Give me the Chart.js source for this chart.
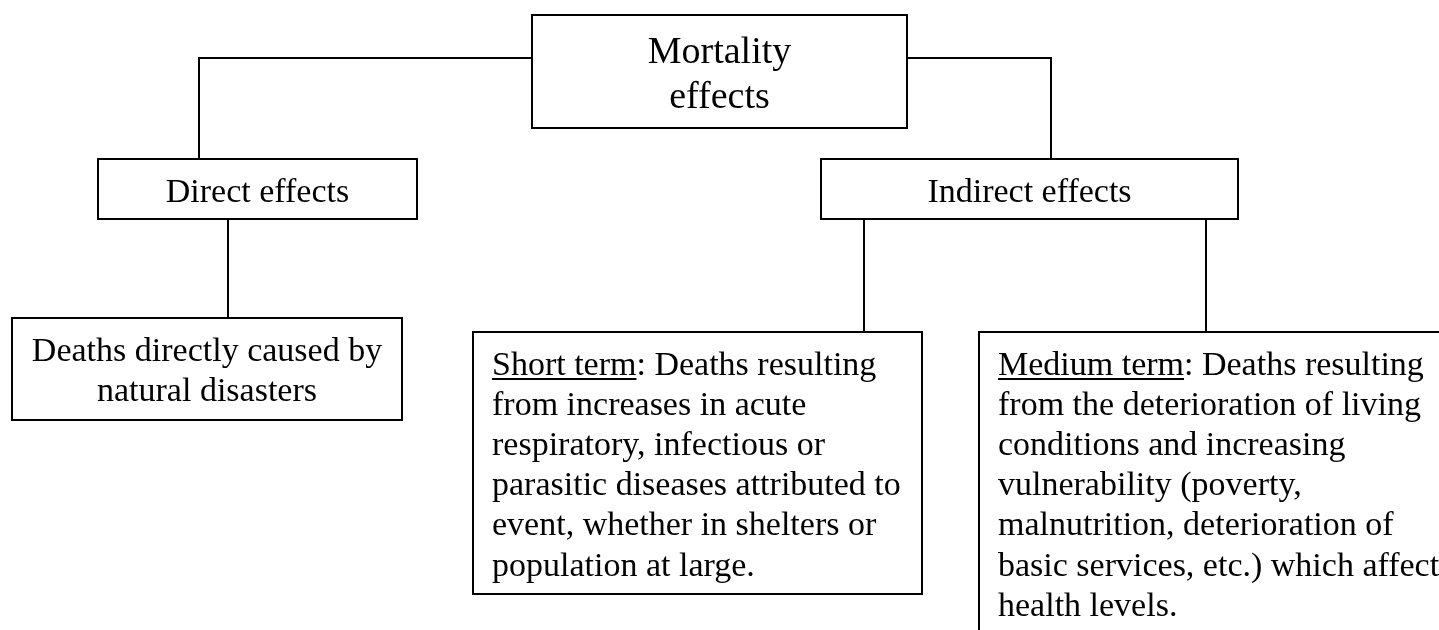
<!DOCTYPE html>
<html lang="en">
<head>
<meta charset="utf-8">
<title>Mortality effects</title>
<script src="https://cdn.jsdelivr.net/npm/chart.js@4.4.1/dist/chart.umd.min.js"></script>
<style>
  html, body { margin: 0; padding: 0; background: #ffffff; }
  canvas { display: block; }
</style>
</head>
<body>
<canvas id="diagram" width="1439" height="630"></canvas>
<script>
"use strict";

// diagram content
const nodeIds = ["mortality", "direct", "indirect", "deaths", "short", "medium"];

const nodeLines = [
  ["Mortality", "effects"],
  ["Direct effects"],
  ["Indirect effects"],
  ["Deaths directly caused by", "natural disasters"],
  [
    "Short term: Deaths resulting",
    "from increases in acute",
    "respiratory, infectious or",
    "parasitic diseases attributed to",
    "event, whether in shelters or",
    "population at large.",
  ],
  [
    "Medium term: Deaths resulting",
    "from the deterioration of living",
    "conditions and increasing",
    "vulnerability (poverty,",
    "malnutrition, deterioration of",
    "basic services, etc.) which affect",
    "health levels.",
  ],
];

const nodeUnderlined = ["", "", "", "", "Short term", "Medium term"];

// parent -> child links
const linkFrom = ["mortality", "mortality", "direct", "indirect", "indirect"];
const linkTo = ["direct", "indirect", "deaths", "short", "medium"];

// layout (diagram units = page pixels)
const nodeLeft = [532, 98, 821, 12, 473, 979];
const nodeRight = [907, 417, 1238, 402, 922, 1450];
const nodeTop = [15, 159, 159, 318, 332, 332];
const nodeBottom = [128, 219, 219, 420, 594, 634];
const nodeAlign = ["center", "center", "center", "center", "left", "left"];
const nodeFontSize = [38, 34, 34, 34, 34, 34];
const linkExit = ["left", "right", "bottom", "bottom", "bottom"];
const linkExitY = [58, 58, null, null, null];
const linkChildX = [199, 1051, 228, 864, 1206];

const FONT_FAMILY = "'Liberation Serif', 'Times New Roman', serif";
const INK = "#000000";
const TEXT_PAD = 19;

function idx(id) {
  return nodeIds.indexOf(id);
}

function boxPath(i) {
  const l = nodeLeft[i];
  const r = nodeRight[i];
  const t = nodeTop[i];
  const b = nodeBottom[i];
  return [
    { x: l, y: t },
    { x: r, y: t },
    { x: r, y: b },
    { x: l, y: b },
    { x: l, y: t },
  ];
}

function linkPath(k) {
  const p = idx(linkFrom[k]);
  const c = idx(linkTo[k]);
  const cx = linkChildX[k];
  if (linkExit[k] === "bottom") {
    return [
      { x: cx, y: nodeBottom[p] },
      { x: cx, y: nodeTop[c] },
    ];
  }
  const sx = linkExit[k] === "left" ? nodeLeft[p] : nodeRight[p];
  return [
    { x: sx, y: linkExitY[k] },
    { x: cx, y: linkExitY[k] },
    { x: cx, y: nodeTop[c] },
  ];
}

function lineDataset(points) {
  return {
    data: points,
    showLine: true,
    borderColor: INK,
    borderWidth: 2,
    borderJoinStyle: "miter",
    borderCapStyle: "square",
    pointRadius: 0,
    pointHoverRadius: 0,
    fill: false,
    tension: 0,
    clip: false,
  };
}

const labelPlugin = {
  id: "nodeLabels",
  afterDatasetsDraw(chart) {
    const { ctx } = chart;
    const xs = chart.scales.x;
    const ys = chart.scales.y;
    ctx.save();
    ctx.fillStyle = INK;
    ctx.textBaseline = "alphabetic";
    nodeIds.forEach((id, i) => {
      const size = nodeFontSize[i];
      const lineH = size * 1.18;
      ctx.font = `${size}px ${FONT_FAMILY}`;
      const left = xs.getPixelForValue(nodeLeft[i]);
      const right = xs.getPixelForValue(nodeRight[i]);
      const top = ys.getPixelForValue(nodeTop[i]);
      nodeLines[i].forEach((line, n) => {
        const baseY = top + size * 1.265 + n * lineH;
        let x;
        if (nodeAlign[i] === "center") {
          ctx.textAlign = "center";
          x = (left + right) / 2;
        } else {
          ctx.textAlign = "left";
          x = left + TEXT_PAD;
        }
        ctx.fillText(line, x, baseY);
        const under = nodeUnderlined[i];
        if (n === 0 && under && line.startsWith(under)) {
          const w = ctx.measureText(under).width;
          const startX = nodeAlign[i] === "center"
            ? x - ctx.measureText(line).width / 2
            : x;
          ctx.fillRect(startX, baseY + 3, w, 2);
        }
      });
    });
    ctx.restore();
  },
};

const datasets = [];
nodeIds.forEach((id, i) => datasets.push(lineDataset(boxPath(i))));
linkFrom.forEach((id, k) => datasets.push(lineDataset(linkPath(k))));

const canvas = document.getElementById("diagram");
new Chart(canvas, {
  type: "scatter",
  data: { datasets },
  options: {
    responsive: false,
    animation: false,
    devicePixelRatio: 1,
    layout: { padding: 0 },
    events: [],
    plugins: {
      legend: { display: false },
      tooltip: { enabled: false },
    },
    scales: {
      x: { type: "linear", min: 0, max: 1439, display: false },
      y: { type: "linear", min: 0, max: 630, reverse: true, display: false },
    },
  },
  plugins: [labelPlugin],
});
</script>
</body>
</html>
